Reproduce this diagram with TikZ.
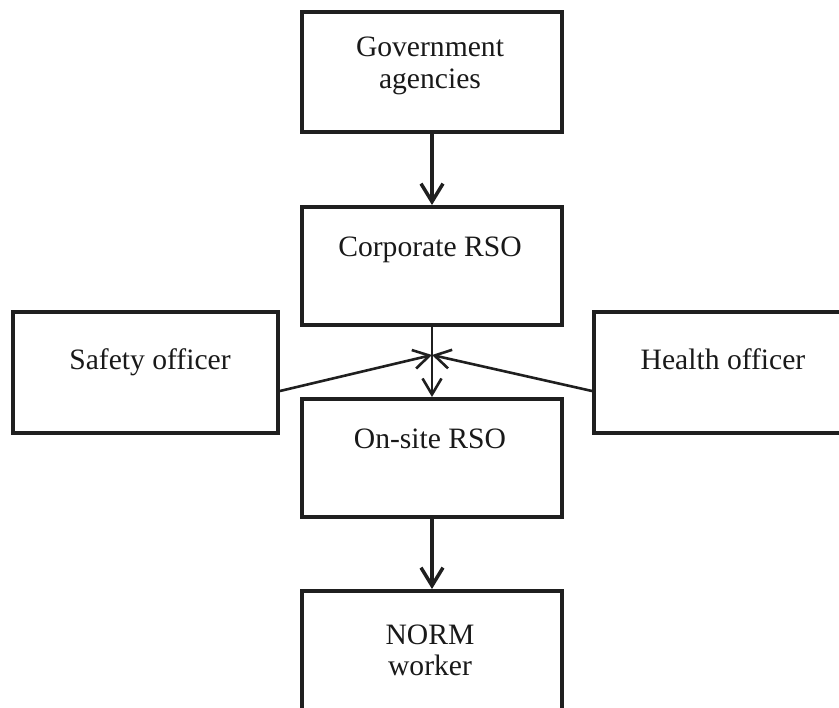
\documentclass[tikz,border=0pt]{standalone}
\usepackage{fontspec}
\setmainfont{Liberation Serif}
\usetikzlibrary{arrows.meta,calc}
\begin{document}
\begin{tikzpicture}[x=1pt,y=-1pt,
  box/.style={draw=black!88,line width=4pt,inner sep=0pt,minimum width=260pt,minimum height=118pt},
  sidebox/.style={box,minimum width=265pt,minimum height=121pt},
  txt/.style={anchor=base,inner sep=0pt,align=center,text=black!90,
    font=\fontsize{29.6pt}{32pt}\selectfont},
  flow/.style={line width=3.5pt,draw=black!88,-{Straight Barb[length=18pt,width=22pt,line width=3.5pt]}},
  thin/.style={line width=2.6pt,draw=black!88,-{Straight Barb[length=16pt,width=19pt,line width=2.6pt]}}]
\useasboundingbox (0,0) rectangle (839,708);
\begin{scope}
\clip (0,0) rectangle (839,708);
% main chain of boxes
\node[box,minimum height=120pt] (gov) at (432,72) {};
\node[box] (corp) at (432,266) {};
\node[box] (onsite) at (432,458) {};
\node[box,minimum height=130pt] (norm) at (432,656) {};
% side boxes
\node[sidebox] (safety) at (145.5,372.5) {};
\node[sidebox] (health) at (726.5,372.5) {};
% labels (base anchor sits on the last line)
\node[txt] (tgov) at (430,89) {Government\\agencies};
\node[txt] (tcorp) at (430,257) {Corporate RSO};
\node[txt] (tonsite) at (430,449) {On-site RSO};
\node[txt] (tnorm) at (430,676) {NORM\\worker};
\node[txt] (tsafety) at (150,370) {Safety officer};
\node[txt] (thealth) at (723,370) {Health officer};
% connectors
\coordinate (j) at ($(corp.south)!0.4!(onsite.north)$);
\draw[flow] (gov.south) -- (corp.north);
\draw[thin] (corp.south) -- (onsite.north);
\draw[thin] ([yshift=-18.5pt]safety.east) -- (j);
\draw[thin] ([yshift=-18.5pt]health.west) -- (j);
\draw[flow] (onsite.south) -- (norm.north);
\end{scope}
\end{tikzpicture}
\end{document}
